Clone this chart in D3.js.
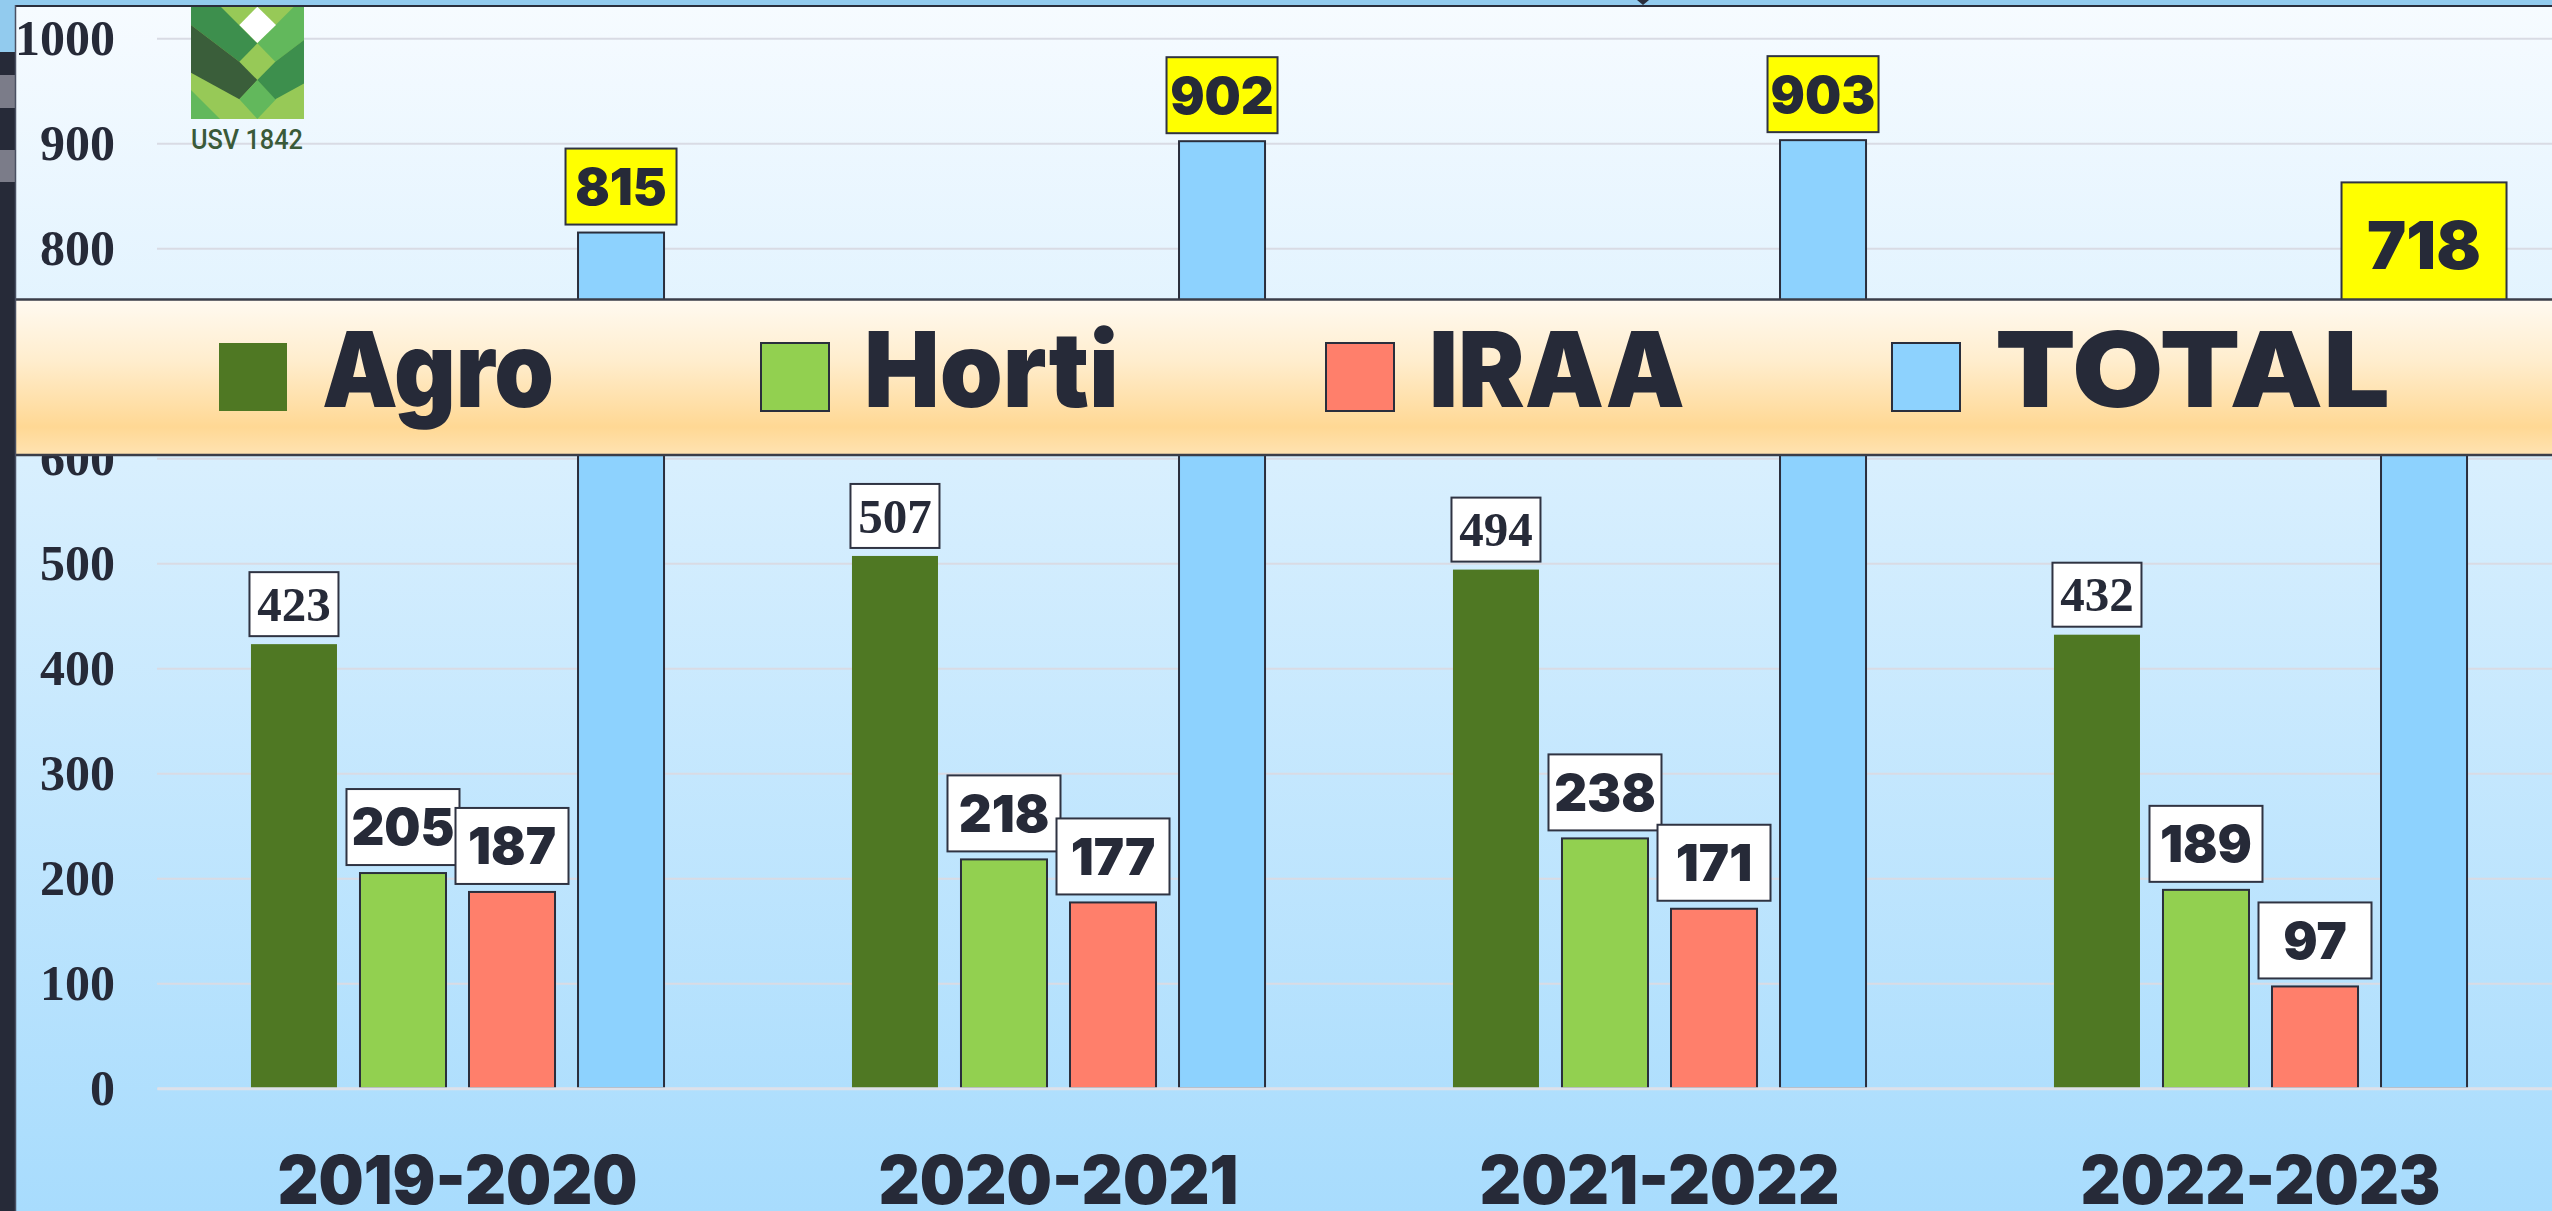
<!DOCTYPE html>
<html><head><meta charset="utf-8">
<script src="https://cdn.jsdelivr.net/npm/d3@7"></script>
<style>html,body{margin:0;padding:0;background:#262a38;overflow:hidden}svg{display:block}</style>
</head><body><svg id="c" width="2552" height="1211"></svg>
<script>
// ---------- data ----------
const categories = ["2019-2020", "2020-2021", "2021-2022", "2022-2023"];
const seriesNames = ["Agro", "Horti", "IRAA", "TOTAL"];
const agro  = [423, 507, 494, 432];
const horti = [205, 218, 238, 189];
const iraa  = [187, 177, 171, 97];
const total = [815, 902, 903, 718];
const yTicks = [0, 100, 200, 300, 400, 500, 600, 700, 800, 900, 1000];
const logoText = "USV 1842";

// ---------- styles / layout ----------
const seriesValues = [agro, horti, iraa, total];
const colors = ["#4f7823", "#92d050", "#ff7f6b", "#8dd2fe"];
const INK = "#262a38";
const HEAVY = '"Arial Black", "Inter", "Roboto", "DejaVu Sans", sans-serif';
const SERIF = '"Liberation Serif", "Times New Roman", serif';
const W = 2552, H = 1211;

const svg = d3.select("#c");
const defs = svg.append("defs");

const bgGrad = defs.append("linearGradient").attr("id", "bg").attr("x1", 0).attr("y1", 0).attr("x2", 0).attr("y2", 1);
bgGrad.append("stop").attr("offset", "0%").attr("stop-color", "#f6fbff");
bgGrad.append("stop").attr("offset", "38%").attr("stop-color", "#d8effe");
bgGrad.append("stop").attr("offset", "100%").attr("stop-color", "#a8dcfd");

const legGrad = defs.append("linearGradient").attr("id", "leg").attr("x1", 0).attr("y1", 0).attr("x2", 0).attr("y2", 1);
legGrad.append("stop").attr("offset", "0%").attr("stop-color", "#fffaf1");
legGrad.append("stop").attr("offset", "40%").attr("stop-color", "#ffedcd");
legGrad.append("stop").attr("offset", "82%").attr("stop-color", "#ffd894");
legGrad.append("stop").attr("offset", "100%").attr("stop-color", "#ffe3b2");

// frame
svg.append("rect").attr("x", 0).attr("y", 0).attr("width", W).attr("height", H).attr("fill", "#262a38");
svg.append("rect").attr("x", 16).attr("y", 7).attr("width", W - 16).attr("height", H - 7).attr("fill", "url(#bg)");

// scales
const x0 = d3.scaleBand().domain(categories).range([157, 2561]).paddingInner(0).paddingOuter(0);
const x1 = d3.scaleBand().domain(seriesNames).range([0, x0.bandwidth()]).paddingInner(0.211).paddingOuter(0.862);
const y = d3.scaleLinear().domain([0, 1000]).range([1088.3, 38.3]);

// y axis with gridlines
const yAxis = svg.append("g").attr("transform", "translate(157,0)")
  .call(d3.axisLeft(y).tickValues(yTicks).tickSize(-(W - 157)).tickPadding(42).tickFormat(d3.format("d")));
yAxis.select(".domain").remove();
yAxis.selectAll(".tick line").attr("stroke", "#d9dbe4").attr("stroke-width", 2);
yAxis.selectAll(".tick text").attr("fill", INK).attr("font-family", SERIF).attr("font-weight", 700)
  .attr("font-size", 50).attr("dy", "0.33em");

// bars
const groups = svg.append("g").selectAll("g").data(categories).join("g")
  .attr("transform", d => `translate(${x0(d)},0)`);

groups.each(function(cat, ci) {
  const g = d3.select(this);
  seriesNames.forEach((s, si) => {
    const v = seriesValues[si][ci];
    g.append("rect")
      .attr("x", x1(s)).attr("y", y(v))
      .attr("width", x1.bandwidth()).attr("height", y(0) - y(v))
      .attr("fill", colors[si])
      .attr("stroke", si === 0 ? "none" : "#2a2e3c").attr("stroke-width", 2);
  });
});

// x axis
const xAxis = svg.append("g").attr("transform", `translate(0,${y(0)})`)
  .call(d3.axisBottom(x0).tickSize(0).tickSizeOuter(0).tickPadding(68));
xAxis.select(".domain").attr("stroke", "#dde1ea").attr("stroke-width", 3);
xAxis.selectAll(".tick text").attr("fill", INK).attr("font-family", HEAVY).attr("font-weight", 900)
  .attr("font-size", 67).attr("textLength", 360).attr("lengthAdjust", "spacingAndGlyphs");

// value labels
const labelStyle = {
  Agro:  {font: SERIF, weight: 700, size: 49, cap: 0.676, w: 89,  h: 64, fill: "#ffffff"},
  Horti: {font: HEAVY, weight: 900, size: 51, cap: 0.72, w: 113, h: 76, fill: "#ffffff"},
  IRAA:  {font: HEAVY, weight: 900, size: 51, cap: 0.72, w: 113, h: 76, fill: "#ffffff"},
  TOTAL: {font: HEAVY, weight: 900, size: 51, cap: 0.72, w: 111, h: 76, fill: "#ffff00"}
};
const emphasis = {font: HEAVY, weight: 900, size: 66, cap: 0.72, w: 165, h: 144, center: 63, fill: "#ffff00"};

const labelLayer = svg.append("g");
categories.forEach((cat, ci) => {
  seriesNames.forEach((s, si) => {
    const v = seriesValues[si][ci];
    const st = (s === "TOTAL" && ci === categories.length - 1) ? emphasis : labelStyle[s];
    const cx = x0(cat) + x1(s) + x1.bandwidth() / 2;
    const bottom = y(v) - 8;
    const top = bottom - st.h;
    labelLayer.append("rect").attr("x", cx - st.w / 2).attr("y", top)
      .attr("width", st.w).attr("height", st.h)
      .attr("fill", st.fill).attr("stroke", "#2f3342").attr("stroke-width", 2);
    const c = st.center !== undefined ? top + st.center : top + st.h / 2;
    labelLayer.append("text").attr("x", cx).attr("y", c + st.size * st.cap / 2)
      .attr("text-anchor", "middle").attr("fill", INK)
      .attr("font-family", st.font).attr("font-weight", st.weight).attr("font-size", st.size)
      .text(v);
  });
});

// logo
const logo = svg.append("g").attr("transform", "translate(191,6) scale(0.3333)");
defs.append("clipPath").attr("id", "logoclip").append("rect").attr("width", 339).attr("height", 339);
const lg = logo.append("g").attr("clip-path", "url(#logoclip)");
lg.append("rect").attr("width", 339).attr("height", 339).attr("fill", "#97c957");
const polys = [
  {c: "#3d8f4d", p: [[0,0],[87,0],[199,112],[145,167],[0,57]]},
  {c: "#3a5e3a", p: [[0,57],[145,167],[199,222],[145,280],[0,200]]},
  {c: "#62b85c", p: [[0,252],[0,339],[87,339]]},
  {c: "#62b85c", p: [[145,280],[199,222],[255,280],[199,339]]},
  {c: "#62b85c", p: [[398,0],[311,0],[199,112],[253,167],[398,57]]},
  {c: "#3d8f4d", p: [[398,57],[253,167],[199,222],[253,280],[398,200]]},
  {c: "#ffffff", p: [[145,57],[199,2],[255,57],[199,111]]}
];
polys.forEach(o => lg.append("path").attr("d", d3.line()(o.p) + "Z").attr("fill", o.c));
svg.append("text").attr("x", 247).attr("y", 149).attr("text-anchor", "middle")
  .attr("font-family", '"Roboto", "Inter", sans-serif').attr("font-weight", 500).attr("font-size", 28)
  .attr("fill", "#3a5a39").attr("textLength", 112).attr("lengthAdjust", "spacingAndGlyphs").text(logoText);

// legend banner
const leg = svg.append("g");
leg.append("rect").attr("x", 16).attr("y", 299).attr("width", W - 16).attr("height", 156).attr("fill", "url(#leg)");
leg.append("line").attr("x1", 16).attr("x2", W).attr("y1", 299.5).attr("y2", 299.5).attr("stroke", "#3a3d48").attr("stroke-width", 2.5);
leg.append("line").attr("x1", 16).attr("x2", W).attr("y1", 455).attr("y2", 455).attr("stroke", "#3a3d48").attr("stroke-width", 2.5);
const legendTextW = [232, 255, 256, 395];
let lx = 219;
seriesNames.forEach((s, i) => {
  leg.append("rect").attr("x", lx).attr("y", 343).attr("width", 68).attr("height", 68)
    .attr("fill", colors[i]).attr("stroke", i === 0 ? "none" : "#2a2e3c").attr("stroke-width", 2);
  leg.append("text").attr("x", lx + 103).attr("y", 407)
    .attr("font-family", HEAVY).attr("font-weight", 900).attr("font-size", 105).attr("fill", INK)
    .attr("textLength", legendTextW[i]).attr("lengthAdjust", "spacingAndGlyphs").text(s);
  lx += 103 + legendTextW[i] + 207;
});

// top / left decorations
svg.append("rect").attr("x", 0).attr("y", 0).attr("width", W).attr("height", 5).attr("fill", "#92cbee");
svg.append("rect").attr("x", 0).attr("y", 0).attr("width", 15).attr("height", 52).attr("fill", "#92cbee");
svg.append("rect").attr("x", 0).attr("y", 75).attr("width", 15).attr("height", 33).attr("fill", "#7b7c89");
svg.append("rect").attr("x", 0).attr("y", 150).attr("width", 15).attr("height", 32).attr("fill", "#7b7c89");
svg.append("line").attr("x1", 15).attr("x2", W).attr("y1", 6).attr("y2", 6).attr("stroke", "#2a2e3c").attr("stroke-width", 2);
svg.append("line").attr("x1", 15.5).attr("x2", 15.5).attr("y1", 5).attr("y2", H).attr("stroke", "#4a5062").attr("stroke-width", 1.5);
svg.append("path").attr("d", "M1637,0L1649,0L1643,5Z").attr("fill", "#2a2e3c");
</script></body></html>
